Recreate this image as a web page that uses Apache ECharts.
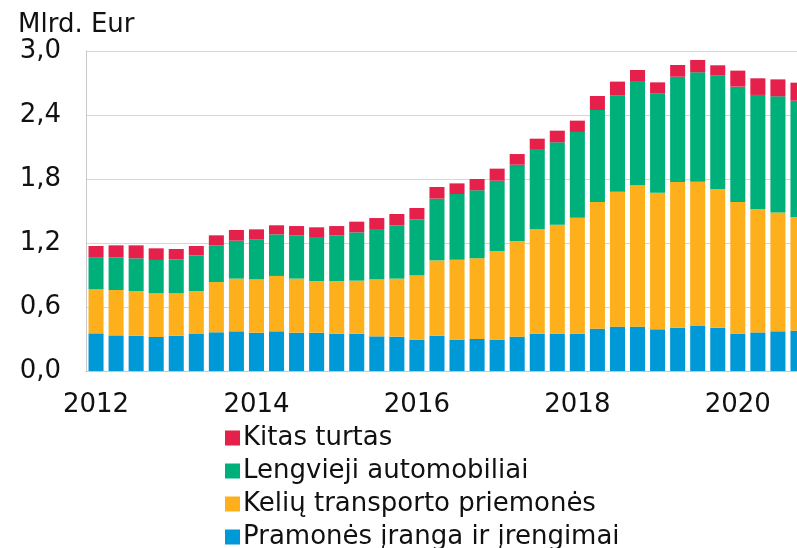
<!DOCTYPE html>
<html>
<head>
<meta charset="utf-8">
<script src="https://cdn.jsdelivr.net/npm/echarts@6/dist/echarts.min.js"></script>
<style>
  html, body { margin: 0; padding: 0; background: #fff; overflow: hidden; }
  #chart { width: 830px; height: 600px; }
</style>
</head>
<body>
<div id="chart"></div>
<script>
// ketvirčiai 2012 I - 2020 IV
var quarters = [];
for (var y = 2012; y <= 2020; y++) {
    for (var q = 1; q <= 4; q++) quarters.push(y + ' Q' + q);
}

var seriesNames = ['Pramonės įranga ir įrengimai', 'Kelių transporto priemonės', 'Lengvieji automobiliai', 'Kitas turtas'];
var seriesColors = ['#0099d8', '#fdb01b', '#00b07b', '#e5204b'];

var pramones = [0.353, 0.334, 0.331, 0.319, 0.331, 0.347, 0.363, 0.372, 0.359, 0.372, 0.359, 0.359,
                0.350, 0.350, 0.325, 0.322, 0.294, 0.331, 0.294, 0.300, 0.294, 0.322, 0.350, 0.350,
                0.350, 0.397, 0.416, 0.416, 0.391, 0.406, 0.422, 0.406, 0.350, 0.362, 0.372, 0.378];
var keliu = [0.413, 0.425, 0.419, 0.409, 0.397, 0.403, 0.471, 0.494, 0.500, 0.519, 0.507, 0.485,
             0.494, 0.497, 0.534, 0.544, 0.603, 0.706, 0.750, 0.756, 0.831, 0.897, 0.978, 1.022,
             1.087, 1.187, 1.265, 1.325, 1.281, 1.366, 1.353, 1.300, 1.234, 1.157, 1.115, 1.066];
var lengvieji = [0.296, 0.307, 0.306, 0.313, 0.319, 0.334, 0.344, 0.356, 0.372, 0.390, 0.406, 0.412,
                 0.428, 0.453, 0.472, 0.500, 0.525, 0.579, 0.615, 0.638, 0.659, 0.715, 0.753, 0.772,
                 0.804, 0.863, 0.900, 0.978, 0.931, 0.987, 1.025, 1.066, 1.082, 1.069, 1.088, 1.090];
var kitas = [0.110, 0.112, 0.122, 0.109, 0.097, 0.088, 0.094, 0.100, 0.097, 0.085, 0.087, 0.091,
             0.087, 0.100, 0.103, 0.106, 0.106, 0.109, 0.100, 0.106, 0.113, 0.100, 0.097, 0.109,
             0.106, 0.131, 0.132, 0.103, 0.103, 0.110, 0.116, 0.094, 0.150, 0.156, 0.159, 0.169];

var seriesData = [pramones, keliu, lengvieji, kitas];
var font = 'DejaVu Sans';

var series = seriesNames.map(function (name, i) {
    return {
        name: name,
        type: 'bar',
        stack: 'total',
        barCategoryGap: '25%',
        itemStyle: { color: seriesColors[i] },
        data: seriesData[i]
    };
});

var myChart = echarts.init(document.getElementById('chart'));
myChart.setOption({
    animation: false,
    title: {
        text: 'Mlrd. Eur',
        left: 13,
        top: 7,
        textStyle: { fontFamily: font, fontSize: 26, fontWeight: 'normal', color: '#111' }
    },
    legend: {
        orient: 'vertical',
        left: 220,
        top: 420,
        itemWidth: 15,
        itemHeight: 15,
        itemGap: 7,
        icon: 'rect',
        data: ['Kitas turtas', 'Lengvieji automobiliai', 'Kelių transporto priemonės', 'Pramonės įranga ir įrengimai'],
        textStyle: { fontFamily: font, fontSize: 26, color: '#111', padding: [0, 0, 0, -2] }
    },
    grid: {
        left: 86,
        top: 51,
        width: 722,
        height: 320
    },
    xAxis: {
        type: 'category',
        data: quarters,
        axisLine: { lineStyle: { color: '#c8c8c8', width: 1 } },
        axisTick: { show: false },
        axisLabel: {
            interval: 7,
            margin: 21,
            fontFamily: font,
            fontSize: 26,
            color: '#111',
            formatter: function (v) { return v.slice(0, 4); }
        }
    },
    yAxis: {
        type: 'value',
        min: 0,
        max: 3,
        interval: 0.6,
        axisLine: { show: true, lineStyle: { color: '#c8c8c8' } },
        axisTick: { show: false },
        splitLine: { lineStyle: { color: '#d6d6d6' } },
        axisLabel: {
            margin: 25,
            fontFamily: font,
            fontSize: 26,
            color: '#111',
            formatter: function (v) { return v.toFixed(1).replace('.', ','); }
        }
    },
    series: series
});
</script>
</body>
</html>
